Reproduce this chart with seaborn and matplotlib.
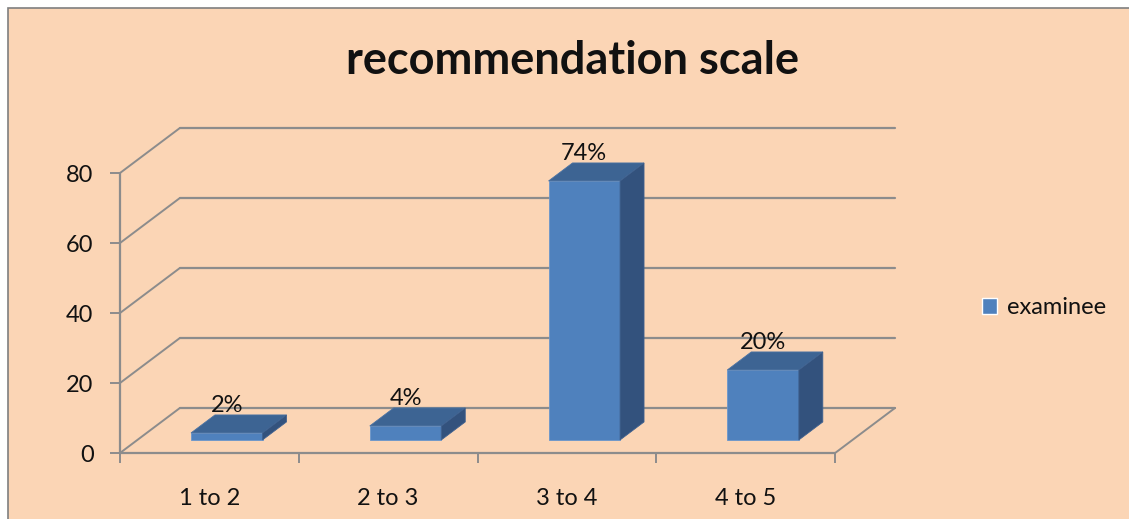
import matplotlib
matplotlib.use("Agg")
import matplotlib.pyplot as plt
import seaborn as sns
from matplotlib.patches import Polygon, Rectangle, Patch

# Survey results: share of examinees per recommendation band
categories = ["1 to 2", "2 to 3", "3 to 4", "4 to 5"]
values = [2, 4, 74, 20]
value_labels = ["2%", "4%", "74%", "20%"]
yticks = [0, 20, 40, 60, 80]
series_name = "examinee"
title = "recommendation scale"

sns.set_theme(style="white")
plt.rcParams["font.family"] = ["Lato", "DejaVu Sans"]

BG = "#FBD5B5"
GRID = "#8C8C8C"
FRONT = "#4F81BD"
TOP = "#3D6493"
SIDE = "#33527D"
TEXT = "#111111"
FS = 17

W, H = 1129, 519
fig = plt.figure(figsize=(W / 100, H / 100), dpi=100, facecolor="white")
fig.patches.append(Rectangle((8 / W, -0.02), 1.05, 1 - 8 / H + 0.02,
                             transform=fig.transFigure, facecolor=BG,
                             edgecolor="#7F7F7F", lw=1.2, zorder=-10))

ax = fig.add_axes([120 / W, 66 / H, 775 / W, 325 / H])
ax.patch.set_alpha(0)

# oblique depth of the pseudo-3D box, in data units
DX, DY = 0.335, 12.86

sns.barplot(x=categories, y=values, color=FRONT, saturation=1, width=0.4,
            edgecolor="#6A96CC", linewidth=0.6, ax=ax, zorder=3)
bars = list(ax.patches)

# back wall gridlines and left wall diagonals
for v in yticks:
    ax.plot([-0.5 + DX, 3.5 + DX], [v + DY, v + DY], color=GRID, lw=1.6,
            clip_on=False, zorder=1)
    ax.plot([-0.5, -0.5 + DX], [v, v + DY], color=GRID, lw=1.4,
            clip_on=False, zorder=1)
# floor front and right edges, front value axis
ax.plot([-0.5, 3.5], [0, 0], color=GRID, lw=1.6, clip_on=False, zorder=1)
ax.plot([3.5, 3.5 + DX], [0, DY], color=GRID, lw=1.4, clip_on=False, zorder=1)
ax.plot([-0.5, -0.5], [0, yticks[-1]], color=GRID, lw=1.6, clip_on=False, zorder=1)

f_front, f_depth = 0.29, 0.40
for p, lab in zip(bars, value_labels):
    x0 = p.get_x() + f_front * DX
    y0 = f_front * DY
    w, h = p.get_width(), p.get_height()
    p.set_x(x0)
    p.set_y(y0)
    ddx, ddy = f_depth * DX, f_depth * DY
    top = Polygon([(x0, y0 + h), (x0 + w, y0 + h),
                   (x0 + w + ddx, y0 + h + ddy), (x0 + ddx, y0 + h + ddy)],
                  closed=True, facecolor=TOP, edgecolor="#4A72A3", lw=0.6, zorder=3)
    side = Polygon([(x0 + w, y0), (x0 + w + ddx, y0 + ddy),
                    (x0 + w + ddx, y0 + h + ddy), (x0 + w, y0 + h)],
                   closed=True, facecolor=SIDE, edgecolor="#3F618F", lw=0.6, zorder=3)
    ax.add_patch(top)
    ax.add_patch(side)
    ax.annotate(lab, (x0 + w / 2, y0 + h + ddy), xytext=(0, 2),
                textcoords="offset points", ha="center", va="baseline",
                fontsize=FS, color=TEXT, zorder=5)

ax.set_xlim(-0.5, 3.5 + DX)
ax.set_ylim(0, yticks[-1] + DY)

for s in ax.spines.values():
    s.set_visible(False)

ax.set_yticks(yticks)
ax.set_yticklabels([str(t) for t in yticks])
ax.tick_params(axis="y", left=True, length=7, width=1.4, color=GRID, pad=12,
               labelsize=FS, labelcolor=TEXT)

ax.set_xticks(range(len(categories)))
ax.set_xticklabels(categories)
ax.set_xticks([i - 0.5 for i in range(len(categories) + 1)], minor=True)
ax.tick_params(axis="x", which="major", length=0, pad=25, labelsize=FS,
               labelcolor=TEXT)
ax.tick_params(axis="x", which="minor", bottom=True, length=7, width=1.4,
               color=GRID)
ax.set_xlabel("")
ax.set_ylabel("")

fig.text(572 / W, 1 - 61 / H, title, ha="center", va="center",
         fontsize=32.5, fontweight="bold", color=TEXT)

fig.legend(handles=[Patch(facecolor=FRONT, label=series_name)],
           loc="center left", bbox_to_anchor=(982 / W, 1 - 308 / H),
           frameon=False, handlelength=0.65, handleheight=0.65,
           handletextpad=0.4, borderpad=0, borderaxespad=0, fontsize=FS,
           labelcolor=TEXT)

fig.savefig("out.png", dpi=100, facecolor="white")
